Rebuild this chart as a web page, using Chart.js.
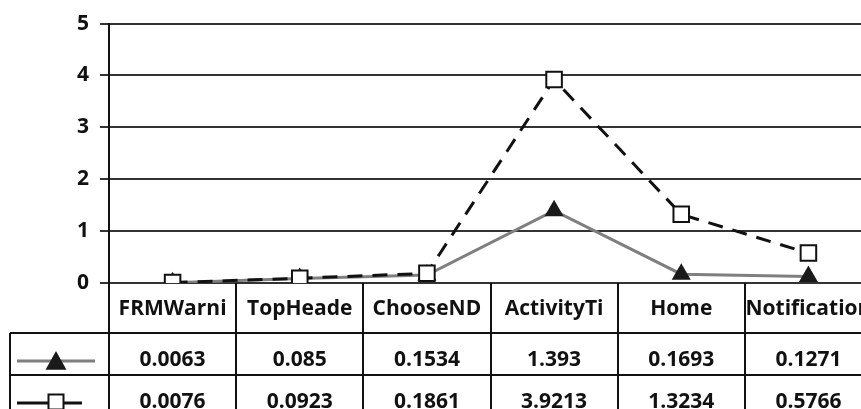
<!DOCTYPE html>
<html>
<head>
<meta charset="utf-8">
<script src="https://cdn.jsdelivr.net/npm/chart.js@4.4.0/dist/chart.umd.min.js"></script>
<style>
  html, body { margin: 0; padding: 0; background: #fff; overflow: hidden; }
  #wrap { width: 885px; height: 409px; }
</style>
</head>
<body>
<div id="wrap"><canvas id="c" width="885" height="409"></canvas></div>
<script>
// Data
const categories = ['FRMWarni', 'TopHeade', 'ChooseND', 'ActivityTi', 'Home', 'Notification'];
const seriesTriangle = [0.0063, 0.085, 0.1534, 1.393, 0.1693, 0.1271];
const seriesSquare = [0.0076, 0.0923, 0.1861, 3.9213, 1.3234, 0.5766];
const yTicks = [0, 1, 2, 3, 4, 5];

const FONT = 'bold 21px "Open Sans", "Noto Sans", sans-serif';

function drawTriangle(ctx, x, y, r) {
  ctx.beginPath();
  ctx.moveTo(x, y - r);
  ctx.lineTo(x + r * 0.95, y + r * 0.7);
  ctx.lineTo(x - r * 0.95, y + r * 0.7);
  ctx.closePath();
  ctx.fillStyle = '#1a1a1a';
  ctx.fill();
}

function drawSquare(ctx, x, y, s) {
  ctx.fillStyle = '#fff';
  ctx.strokeStyle = '#111';
  ctx.lineWidth = 2;
  ctx.fillRect(x - s / 2, y - s / 2, s, s);
  ctx.strokeRect(x - s / 2, y - s / 2, s, s);
}

// draws the data table under the plot
const tablePlugin = {
  id: 'dataTable',
  afterDraw(chart) {
    const ctx = chart.ctx;
    const xs = chart.scales.x;
    const area = chart.chartArea;
    const top = area.bottom;
    const row1 = 333, row2 = 375, bottom = 420;
    const left = 10;
    const colW = (area.right - area.left) / categories.length;

    ctx.save();
    ctx.strokeStyle = '#111';
    ctx.lineWidth = 2;
    ctx.beginPath();
    // horizontal lines
    ctx.moveTo(left, row1); ctx.lineTo(area.right, row1);
    ctx.moveTo(left, row2); ctx.lineTo(area.right, row2);
    // left border of legend column
    ctx.moveTo(left, row1); ctx.lineTo(left, bottom);
    // column separators
    for (let i = 0; i <= categories.length; i++) {
      const x = Math.round(area.left + i * colW);
      ctx.moveTo(x, top); ctx.lineTo(x, bottom);
    }
    ctx.stroke();

    ctx.font = FONT;
    ctx.fillStyle = '#111';
    ctx.textAlign = 'center';
    ctx.textBaseline = 'middle';
    categories.forEach((cat, i) => {
      const cx = xs.getPixelForValue(i);
      ctx.fillText(cat, cx, 309);
      ctx.fillText(String(seriesTriangle[i]), cx, 360);
      ctx.fillText(String(seriesSquare[i]), cx, 402);
    });

    // legend keys
    ctx.strokeStyle = '#7f7f7f';
    ctx.lineWidth = 3;
    ctx.beginPath();
    ctx.moveTo(17, 361); ctx.lineTo(95, 361);
    ctx.stroke();
    drawTriangle(ctx, 56, 362, 11);

    ctx.strokeStyle = '#111';
    ctx.lineWidth = 3;
    ctx.beginPath();
    ctx.moveTo(17, 403); ctx.lineTo(82, 403);
    ctx.stroke();
    drawSquare(ctx, 56, 402, 15);
    ctx.restore();
  }
};

new Chart(document.getElementById('c'), {
  type: 'line',
  data: {
    labels: categories,
    datasets: [
      {
        label: 'square',
        data: seriesSquare,
        borderColor: '#111',
        borderWidth: 3,
        borderDash: [15, 10],
        pointStyle: 'rect',
        pointRadius: 11,
        pointBorderWidth: 2,
        pointBorderColor: '#111',
        pointBackgroundColor: '#fff',
        tension: 0
      },
      {
        label: 'triangle',
        data: seriesTriangle,
        borderColor: '#7f7f7f',
        borderWidth: 3,
        pointStyle: 'triangle',
        pointRadius: 11,
        pointBorderWidth: 0,
        pointBackgroundColor: '#1a1a1a',
        tension: 0
      }
    ]
  },
  options: {
    responsive: false,
    animation: false,
    layout: { padding: { top: 10, right: 0, bottom: 126, left: 0 } },
    plugins: { legend: { display: false }, tooltip: { enabled: false } },
    scales: {
      x: {
        display: false,
        offset: true
      },
      y: {
        min: 0,
        max: 5,
        afterFit(scale) { scale.width = 109; },
        afterBuildTicks(scale) { scale.ticks = yTicks.map(v => ({ value: v })); },
        grid: { color: '#333', lineWidth: 2, tickLength: 9, drawTicks: true },
        border: { color: '#111', width: 2 },
        ticks: {
          color: '#111',
          padding: 11,
          font: { family: '"Open Sans", "Noto Sans", sans-serif', size: 21, weight: 'bold' }
        }
      }
    }
  },
  plugins: [tablePlugin]
});
</script>
</body>
</html>
